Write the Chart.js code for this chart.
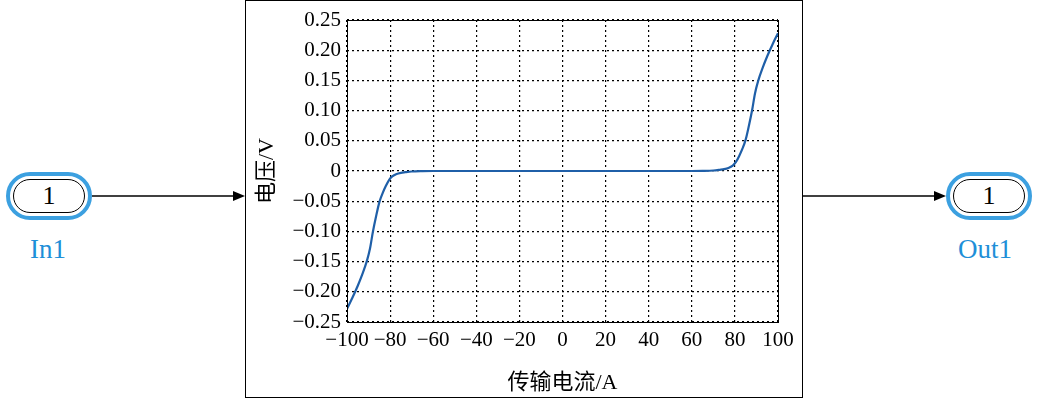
<!DOCTYPE html>
<html><head><meta charset="utf-8">
<script src="https://cdn.jsdelivr.net/npm/chart.js@4"></script>
<style>
body{margin:0;background:#fff;width:1043px;height:400px;position:relative;overflow:hidden;font-family:"Liberation Serif","Noto Sans CJK SC",serif}
.blk{position:absolute;left:245px;top:0;width:556px;height:396px;border:1px solid #000;box-sizing:content-box}
.port{position:absolute;top:172px;width:86px;height:48px;border:4px solid #3ca0e0;border-radius:26px;box-sizing:border-box;display:flex;align-items:center;justify-content:center}
.port div{position:absolute;left:3px;right:3px;top:3px;bottom:3px;border:1.5px solid #000;border-radius:20px;display:flex;align-items:center;justify-content:center;font-size:26px}
.lbl{position:absolute;top:234px;color:#1e8fd8;font-size:27px}
canvas{position:absolute;left:0;top:0}
</style></head><body>
<div class="blk"></div>
<div class="port" style="left:6px"><div>1</div></div>
<div class="lbl" style="left:30px">In1</div>
<div class="port" style="left:946px"><div>1</div></div>
<div class="lbl" style="left:958px">Out1</div>
<svg width="1043" height="400" style="position:absolute;left:0;top:0">
<line x1="92" y1="196" x2="236" y2="196" stroke="#000" stroke-width="1.3"/>
<polygon points="245,196 233,191 233,201" fill="#000"/>
<line x1="802" y1="196" x2="937" y2="196" stroke="#000" stroke-width="1.3"/>
<polygon points="946,196 934,191 934,201" fill="#000"/>
</svg>
<canvas id="c" width="1043" height="400"></canvas>
<script>
const xTicks=[-100,-80,-60,-40,-20,0,20,40,60,80,100];
const currentA=[60,65,70,73,75,77,79,80.5,82,83.5,85,86.5,88,89.3,90.7,93,95,97.5,100];
const voltageV=[0,0.0002,0.0008,0.002,0.003,0.005,0.009,0.015,0.025,0.037,0.052,0.075,0.101,0.128,0.148,0.172,0.19,0.21,0.228];
const pts=[];
for(let i=currentA.length-1;i>=0;i--)pts.push({x:-currentA[i],y:-voltageV[i]});
for(let i=0;i<currentA.length;i++)pts.push({x:currentA[i],y:voltageV[i]});
const F="'Liberation Serif','Noto Sans CJK SC',serif";
const box={id:'box',afterDraw(c){const a=c.chartArea,g=c.ctx;g.save();g.strokeStyle='#000';g.lineWidth=1;g.strokeRect(a.left+.5,a.top+.5,a.right-a.left,a.bottom-a.top);g.restore();}};
new Chart(document.getElementById('c'),{type:'scatter',
data:{datasets:[{data:pts,showLine:true,borderColor:'#1f5fa8',borderWidth:2.2,pointRadius:0,cubicInterpolationMode:'monotone'}]},
options:{responsive:false,animation:false,plugins:{legend:{display:false},tooltip:{enabled:false}},
layout:{padding:{left:250,top:20,right:265,bottom:0}},
scales:{
x:{type:'linear',min:-100,max:100,afterBuildTicks(s){s.ticks=xTicks.map(v=>({value:v}));},afterFit(s){s.height=78;},
 grid:{color:'#000',lineWidth:1.2,drawTicks:false},border:{display:false,dash:[2,3]},
 ticks:{color:'#000',font:{family:F,size:21},padding:6,maxRotation:0,autoSkip:false,callback:v=>v<0?'\u2212'+(-v):''+v},
 title:{display:true,text:'传输电流/A',color:'#000',font:{family:F,size:22},padding:{top:4}}},
y:{min:-0.25,max:0.25,afterBuildTicks(s){const t=[];for(let i=-5;i<=5;i++)t.push({value:i*0.05});s.ticks=t;},afterFit(s){s.width=97;},
 grid:{color:'#000',lineWidth:1.2,drawTicks:false},border:{display:false,dash:[2,3]},
 ticks:{color:'#000',font:{family:F,size:21},padding:6,autoSkip:false,callback:v=>{const r=Math.round(v*100)/100;if(r===0)return'0';const s=Math.abs(r).toFixed(2);return r<0?'\u2212'+s:s;}},
 title:{display:true,text:'电压/V',color:'#000',font:{family:F,size:22},padding:{bottom:0}}}}},
plugins:[box]});
</script></body></html>
